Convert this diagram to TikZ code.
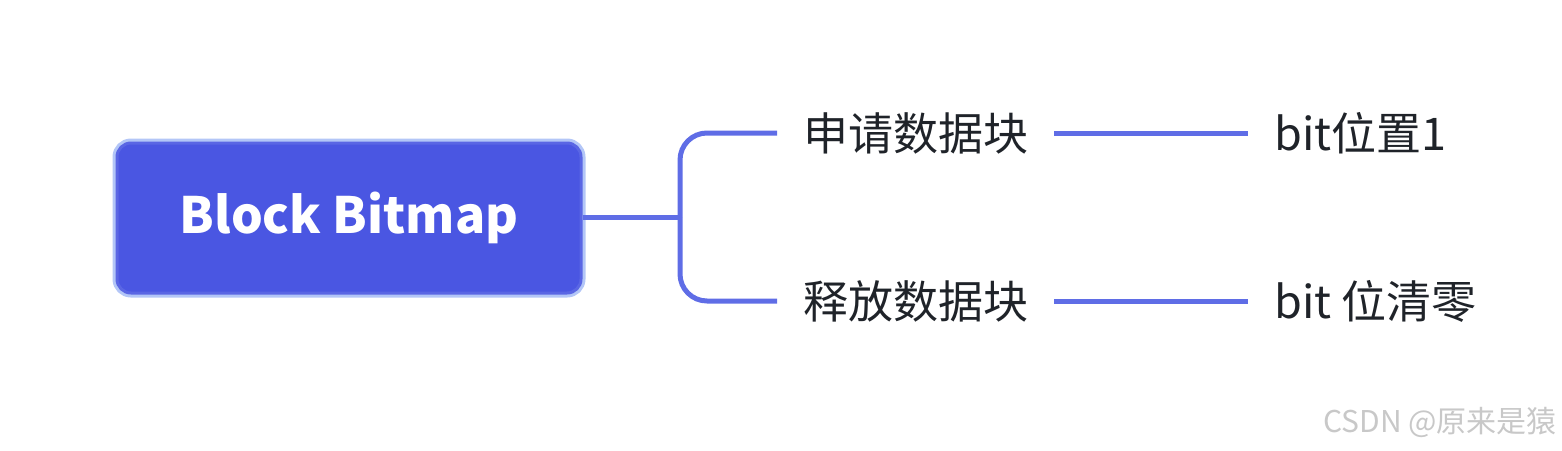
\documentclass[tikz,border=0pt]{standalone}
\usepackage{fontspec}
\setmainfont{Noto Sans CJK SC}
\newfontfamily\cjkfont{Noto Sans CJK SC}
\definecolor{rootfill}{HTML}{4A56E2}
\definecolor{rootedge}{HTML}{5A66E4}
\definecolor{halo}{HTML}{B3C6F7}
\definecolor{linkc}{HTML}{5F6DE6}
\definecolor{txt}{HTML}{1F2329}
\definecolor{wm}{HTML}{C8C8C8}
\tikzset{
  rootbox/.style={rectangle, rounded corners=14, fill=rootfill, draw=rootedge, line width=3,
    preaction={draw=halo, line width=9},
    minimum width=464, minimum height=150, inner sep=0,
    text=white, font=\cjkfont\bfseries\fontsize{50}{58}\selectfont},
  leaf/.style={anchor=west, inner xsep=26, inner ysep=0, text=txt,
    font=\cjkfont\fontsize{45}{52}\selectfont},
  link/.style={draw=linkc, line width=5},
  wmark/.style={anchor=east, inner sep=0, text=wm, font=\cjkfont\fontsize{30}{34}\selectfont}
}
\begin{document}
\begin{tikzpicture}[x=1pt,y=-1pt]
\useasboundingbox (0,0) rectangle (1562,450);
\node[rootbox] (root) at (349,218) {Block Bitmap};
\coordinate (fork) at (680,217);
\node[leaf] (c1) at (777,133) {申请数据块};
\node[leaf] (c2) at (777,301) {释放数据块};
\node[leaf] (g1) at (1248,133) {bit位置1};
\node[leaf] (g2) at (1248,301) {bit 位清零};
\draw[link] (root.east |- fork) -- (fork);
\draw[link, rounded corners=27] (fork) |- (c1.west);
\draw[link, rounded corners=27] (fork) |- (c2.west);
\draw[link] (c1.east) -- (g1.west);
\draw[link] (c2.east) -- (g2.west);
\node[wmark] (wm) at (1557,422) {CSDN @原来是猿};
\end{tikzpicture}
\end{document}
